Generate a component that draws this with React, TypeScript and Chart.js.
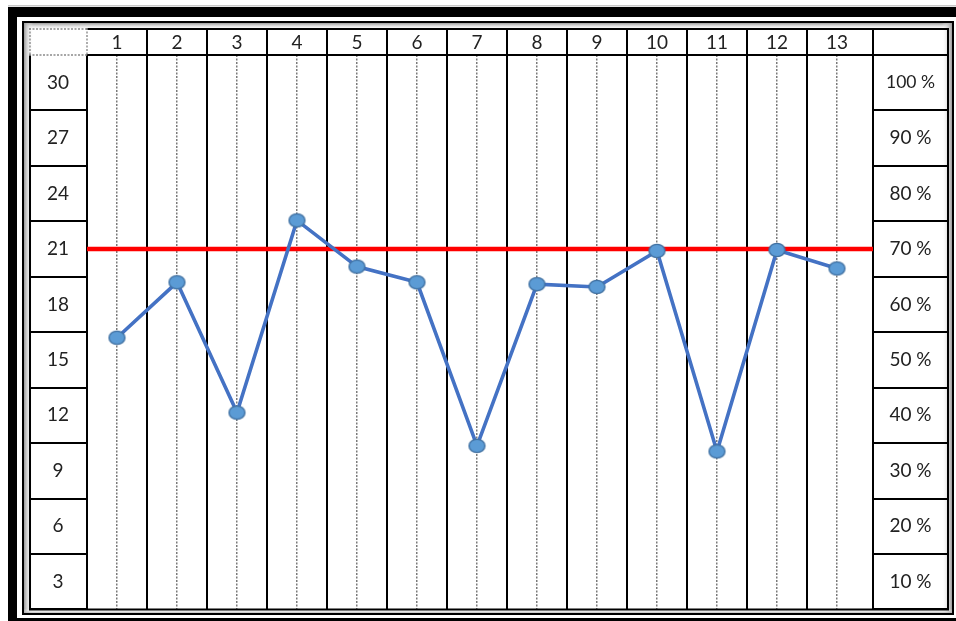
import React, { useEffect, useRef } from 'react';
import { Chart, registerables } from 'chart.js';

Chart.register(...registerables);

// ---- data ----
const categories = [1, 2, 3, 4, 5, 6, 7, 8, 9, 10, 11, 12, 13];
const values = [16.2, 19.2, 12.15, 22.55, 20.05, 19.2, 10.35, 19.1, 18.95, 20.9, 10.05, 20.95, 19.95];
const target = 21;
const yTicks = [3, 6, 9, 12, 15, 18, 21, 24, 27, 30];
const pctLabels = ['10 %', '20 %', '30 %', '40 %', '50 %', '60 %', '70 %', '80 %', '90 %', '100 %'];

// ---- scale bounds / style ----
const X_MIN = 0.5;
const X_MAX = 13.6;
const Y_MIN = 1.5;
const Y_MAX = 31.5;
const FONT = 'Lato';
const FS = 19;
const FS_SMALL = 17.5;
const TEXT = '#222222';
const CLEAR = 'rgba(0,0,0,0)';

function measure(txt: string, size: number): number {
  const c = document.createElement('canvas').getContext('2d')!;
  c.font = `${size}px ${FONT}`;
  return c.measureText(txt).width;
}

function makeMarker(): HTMLCanvasElement {
  const c = document.createElement('canvas');
  c.width = 19;
  c.height = 16;
  const g = c.getContext('2d')!;
  g.beginPath();
  g.ellipse(9.5, 8, 8, 6.6, 0, 0, Math.PI * 2);
  g.fillStyle = '#5B9BD5';
  g.fill();
  g.lineWidth = 1.3;
  g.strokeStyle = '#3F6FA0';
  g.stroke();
  return c;
}

const framePlugin = {
  id: 'frame',
  beforeDraw(chart: any) {
    const { ctx, width, height } = chart;
    ctx.save();
    ctx.fillStyle = '#fff';
    ctx.fillRect(0, 0, width, height);
    // faint outer line
    ctx.fillStyle = '#c8c8c8';
    ctx.fillRect(8, 5, width - 8, 1.5);
    // thick black outer frame
    ctx.fillStyle = '#000';
    ctx.fillRect(8, 7, width - 8, 10);
    ctx.fillRect(8, 7, 9, height - 7);
    ctx.fillRect(8, 618, width - 8, 3);
    // inner shadow bands
    const band = (x0: number, y0: number, x1: number, y1: number, gx0: number, gy0: number, gx1: number, gy1: number) => {
      const g = ctx.createLinearGradient(gx0, gy0, gx1, gy1);
      g.addColorStop(0, '#9a9a9a');
      g.addColorStop(1, 'rgba(255,255,255,0)');
      ctx.fillStyle = g;
      ctx.fillRect(x0, y0, x1 - x0, y1 - y0);
    };
    band(24, 23, 952, 30, 0, 23, 0, 30);
    band(24, 23, 33, 614, 24, 0, 33, 0);
    band(942, 23, 952, 614, 952, 0, 942, 0);
    band(24, 609, 952, 614, 0, 614, 0, 609);
    // thin inner frame
    ctx.lineWidth = 2;
    ctx.strokeStyle = '#000';
    ctx.strokeRect(23, 22, 930, 592);
    ctx.restore();
  },
  afterDraw(chart: any) {
    const { ctx, chartArea: a, scales } = chart;
    const left = scales.y.left;
    const right = scales.y2.right;
    const top = scales.x.top;
    ctx.save();
    ctx.strokeStyle = '#000';
    ctx.lineWidth = 2;
    ctx.beginPath();
    ctx.moveTo(left + 1, a.top);
    ctx.lineTo(left + 1, a.bottom + 1);
    ctx.moveTo(a.left - 1, top + 1);
    ctx.lineTo(right, top + 1);
    ctx.moveTo(right, top);
    ctx.lineTo(right, a.bottom + 1);
    ctx.moveTo(left, a.bottom);
    ctx.lineTo(right + 1, a.bottom);
    ctx.moveTo(a.right, top);
    ctx.lineTo(a.right, a.top);
    ctx.stroke();
    // dotted corner cell
    ctx.strokeStyle = '#8a8a8a';
    ctx.lineWidth = 1.4;
    ctx.setLineDash([2, 1.5]);
    ctx.beginPath();
    ctx.moveTo(left, top + 1);
    ctx.lineTo(a.left, top + 1);
    ctx.moveTo(left + 1, top);
    ctx.lineTo(left + 1, a.top);
    ctx.moveTo(a.left, top);
    ctx.lineTo(a.left, a.top);
    ctx.moveTo(left, a.top);
    ctx.lineTo(a.left, a.top);
    ctx.stroke();
    ctx.restore();
  },
};

export default function App() {
  const ref = useRef<HTMLCanvasElement | null>(null);

  useEffect(() => {
    if (!ref.current) return;
    const wLeft = Math.max(...yTicks.map((v) => measure(String(v), FS)));
    const wRight = Math.max(
      ...pctLabels.map((t, i) => measure(t, yTicks[i] === 30 ? FS_SMALL : FS))
    );
    const marker = makeMarker();

    const chart = new Chart(ref.current, {
      type: 'line',
      data: {
        datasets: [
          {
            label: 'values',
            data: categories.map((c, i) => ({ x: c, y: values[i] })),
            borderColor: '#4472C4',
            borderWidth: 3.6,
            pointStyle: marker as any,
            pointRadius: 8,
            pointHoverRadius: 8,
            tension: 0,
            xAxisID: 'x',
            yAxisID: 'y',
          },
          {
            label: 'target',
            data: [
              { x: X_MIN, y: target },
              { x: X_MAX, y: target },
            ],
            borderColor: '#FF0000',
            borderWidth: 4.5,
            pointRadius: 0,
            xAxisID: 'x',
            yAxisID: 'y',
          },
        ],
      },
      options: {
        animation: false,
        responsive: false,
        events: [],
        layout: { padding: { left: 29, right: 8, top: 28, bottom: 11 } },
        plugins: { legend: { display: false }, tooltip: { enabled: false } },
        scales: {
          x: {
            type: 'linear',
            position: 'top',
            min: X_MIN,
            max: X_MAX,
            afterBuildTicks: (s: any) => {
              s.ticks = categories.map((v) => ({ value: v }));
            },
            afterFit: (s: any) => {
              s.height = 27;
            },
            ticks: {
              autoSkip: false,
              maxRotation: 0,
              padding: -26.5,
              color: TEXT,
              font: { family: FONT, size: FS },
              callback: (v: any) => String(v),
            },
            grid: {
              offset: true,
              lineWidth: 2,
              drawTicks: true,
              tickLength: 27,
              color: (c: any) => (c.type === 'tick' && c.index > 0 ? '#000' : CLEAR),
            },
            border: { display: true, color: '#000', width: 2 },
          },
          x2: {
            type: 'linear',
            position: 'bottom',
            min: X_MIN,
            max: X_MAX,
            afterBuildTicks: (s: any) => {
              s.ticks = categories.map((v) => ({ value: v }));
            },
            afterFit: (s: any) => {
              s.height = 0;
            },
            ticks: { display: false },
            grid: { offset: false, lineWidth: 1.5, color: '#7a7a7a', drawTicks: false },
            border: { display: false, dash: [2, 1.5] },
          },
          y: {
            type: 'linear',
            position: 'left',
            min: Y_MIN,
            max: Y_MAX,
            afterBuildTicks: (s: any) => {
              s.ticks = yTicks.map((v) => ({ value: v }));
            },
            afterFit: (s: any) => {
              s.width = 58;
            },
            ticks: {
              autoSkip: false,
              crossAlign: 'center',
              padding: -29 - wLeft / 2,
              color: TEXT,
              font: { family: FONT, size: FS },
              callback: (v: any) => String(v),
            },
            grid: {
              offset: true,
              drawOnChartArea: false,
              drawTicks: true,
              tickLength: 58,
              lineWidth: 2,
              color: (c: any) => (c.type === 'tick' ? '#000' : CLEAR),
            },
            border: { display: true, color: '#000', width: 2 },
          },
          y2: {
            type: 'linear',
            position: 'right',
            min: Y_MIN,
            max: Y_MAX,
            afterBuildTicks: (s: any) => {
              s.ticks = yTicks.map((v) => ({ value: v }));
            },
            afterFit: (s: any) => {
              s.width = 75;
            },
            ticks: {
              autoSkip: false,
              crossAlign: 'center',
              padding: -37.5 - wRight / 2,
              color: TEXT,
              font: (c: any) => ({
                family: FONT,
                size: c.tick && c.tick.value === 30 ? FS_SMALL : FS,
              }),
              callback: (_v: any, i: number) => pctLabels[i],
            },
            grid: {
              offset: true,
              drawOnChartArea: false,
              drawTicks: true,
              tickLength: 75,
              lineWidth: 2,
              color: '#000',
            },
            border: { display: true, color: '#000', width: 2 },
          },
        },
      } as any,
      plugins: [framePlugin],
    });
    return () => chart.destroy();
  }, []);

  return (
    <div style={{ position: 'absolute', left: 0, top: 0, width: 956, height: 621 }}>
      <canvas ref={ref} width={956} height={621} style={{ display: 'block' }} />
    </div>
  );
}
